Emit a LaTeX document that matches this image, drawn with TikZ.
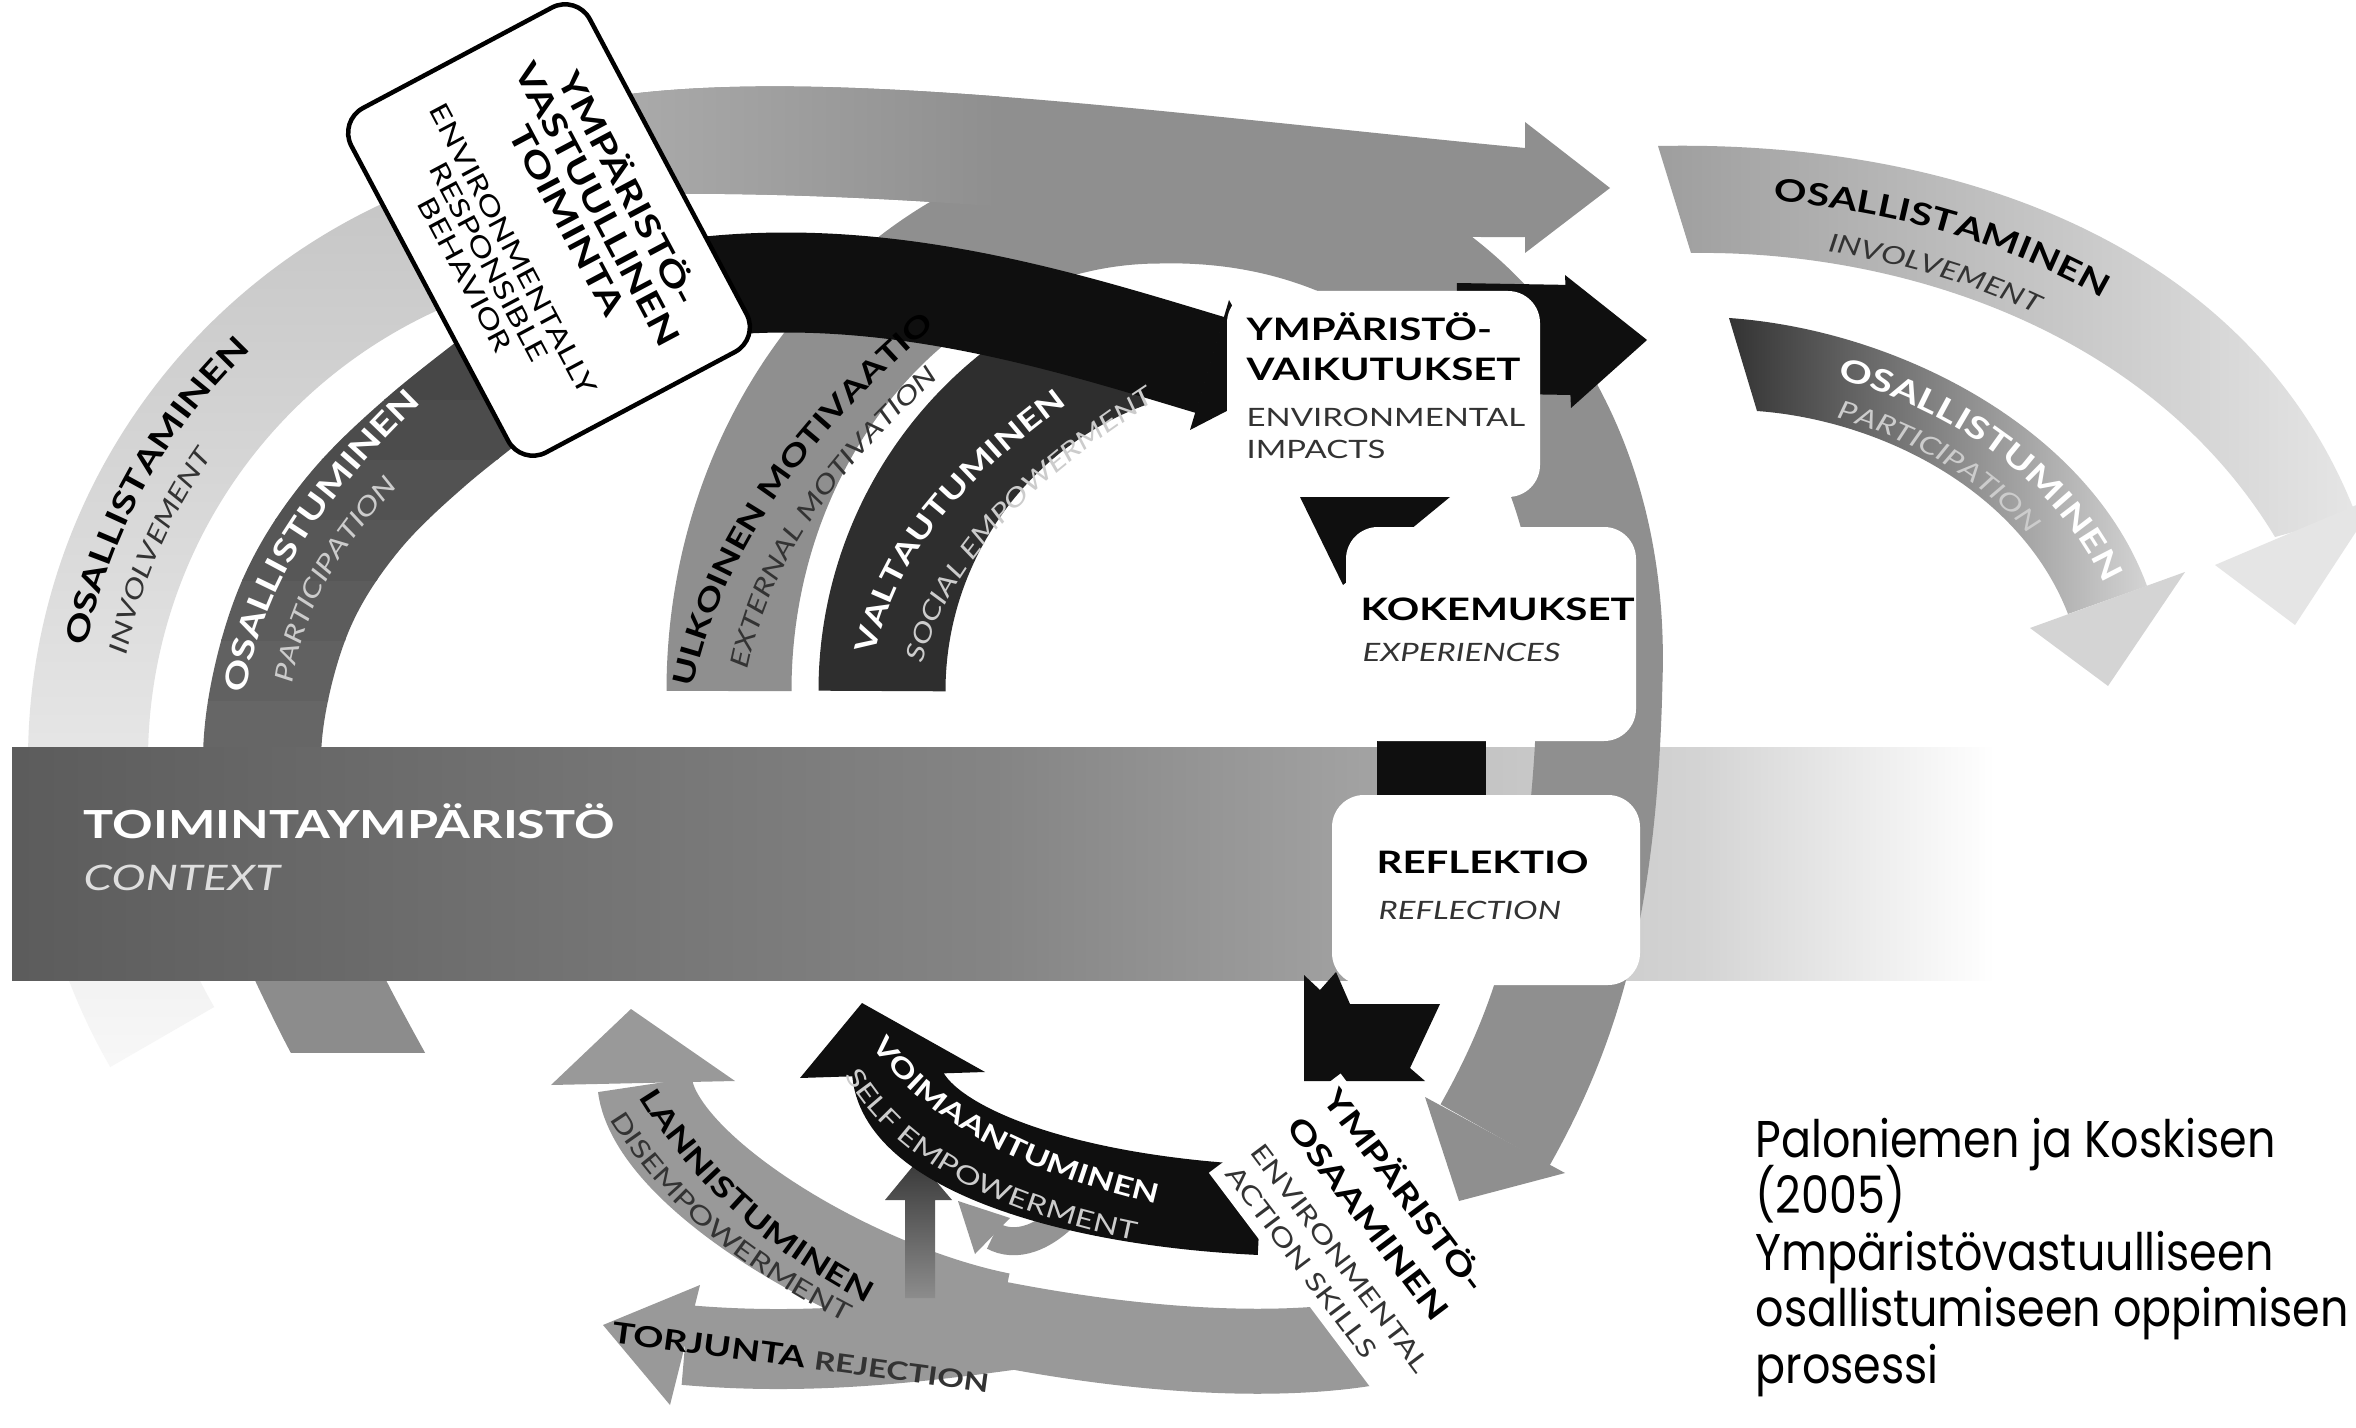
\documentclass[tikz,border=0pt]{standalone}
\usepackage{fontspec}
\setmainfont{Lato}
\newfontfamily\lblfont{Lato}[FakeStretch=1.3]
\newfontfamily\capfont{Poppins}[FakeStretch=0.86]
\usetikzlibrary{decorations.text,calc}
\newcommand\labB{\lblfont\bfseries\fontsize{8.8}{10.5}\selectfont}
\newcommand\labBs{\lblfont\bfseries\fontsize{8.2}{10}\selectfont}
\newcommand\labBt{\lblfont\bfseries\fontsize{7.6}{9}\selectfont}
\newcommand\labR{\lblfont\fontsize{7.2}{8.6}\selectfont}
\newcommand\labI{\lblfont\itshape\fontsize{7.2}{8.6}\selectfont}
\newcommand\labBB{\lblfont\bfseries\fontsize{9.3}{9.7}\selectfont}
\newcommand\labRR{\lblfont\fontsize{7.5}{7.7}\selectfont}
\definecolor{l1top}{gray}{0.77}
\definecolor{l1bot}{gray}{0.97}
\definecolor{tl}{gray}{0.68}
\definecolor{ucol}{gray}{0.56}
\definecolor{p1low}{gray}{0.55}
\definecolor{vcol}{gray}{0.18}
\definecolor{bcol}{gray}{0.06}
\definecolor{bar1}{gray}{0.36}
\definecolor{bar2}{gray}{0.52}
\definecolor{bar3}{gray}{0.64}
\definecolor{bar4}{gray}{0.74}
\definecolor{bar5}{gray}{0.83}
\definecolor{r1l}{gray}{0.62}
\definecolor{r1r}{gray}{0.9}
\definecolor{r2l}{gray}{0.2}
\definecolor{r2r}{gray}{0.83}
\definecolor{bot}{gray}{0.6}
\definecolor{sat}{gray}{0.22}
\definecolor{sab}{gray}{0.55}
\definecolor{scol}{gray}{0.58}
\definecolor{dgray}{gray}{0.2}
\definecolor{lgray}{gray}{0.8}
\definecolor{ctxc}{gray}{0.87}
\begin{document}
\begin{tikzpicture}[x=0.1mm, y=0.1mm,
  wbox/.style={fill=white, rounded corners=3.2mm, inner sep=0pt},
  tlab/.style={anchor=base west, inner sep=0pt},
  caplab/.style={anchor=base west, inner sep=0pt, font=\capfont\fontsize{14.7}{17}\selectfont},
]
\useasboundingbox (0,0) rectangle (2356,-1428);
\fill[white] (0,0) rectangle (2356,-1428);

% outer left arc (involvement)
\shade[top color=l1top, bottom color=l1bot] ($(642,-760)+(210:614)$) arc[start angle=210, end angle=103, radius=614] -- ($(642,-760)+(103:494)$) arc[start angle=103, end angle=210, radius=494] -- cycle;

% participation arc (left), darkening upwards
\foreach \i in {0,...,7} {
  \pgfmathsetmacro{\gv}{0.40-0.02*\i}
  \pgfmathsetmacro{\ylo}{-760+60*\i}
  \pgfmathsetmacro{\yhi}{\i==7 ? 0 : -760+60*(\i+1)+1}
  \definecolor{pc}{gray}{\gv}
  \begin{scope}
  \clip (0,\ylo) rectangle (1000,\yhi);
  \draw[pc, line width=11.8mm] plot[smooth, tension=0.6] coordinates {(395,-1120) (330,-1000) (282,-890) (263,-790) (268,-700) (298,-600) (352,-515) (428,-440) (530,-360)};
  \end{scope}
}
\begin{scope}
\clip (0,-975) rectangle (1000,-1052);
\draw[p1low, line width=11.8mm] plot[smooth, tension=0.6] coordinates {(395,-1120) (330,-1000) (282,-890) (263,-790) (268,-700) (298,-600) (352,-515) (428,-440) (530,-360)};
\end{scope}

% context bar
\shade[left color=bar1, right color=bar2] (12,-747) rectangle (1002,-980);
\shade[left color=bar2, right color=bar3] (1000,-747) rectangle (1380,-980);
\shade[left color=bar4, right color=bar5] (1378,-747) rectangle (1702,-980);
\shade[left color=bar5, right color=white] (1700,-747) rectangle (1995,-980);

% external motivation big loop
\draw[ucol, line width=12.5mm] (729,-691) arc[start angle=180, end angle=90, x radius=431, y radius=490] .. controls (1420,-195) and (1610,-390) .. (1600,-680) .. controls (1595,-900) and (1560,-1020) .. (1495,-1135);
\fill[ucol] (1425,-1097) -- (1565,-1173) -- (1459,-1201) -- cycle;

% top arrow (light near the box, same tone as the loop further right)
\begin{scope}
\clip (590,-100) .. controls (800,-62) and (1150,-112) .. (1525,-148) -- (1525,-237) .. controls (1250,-240) and (950,-185) .. (600,-195) -- cycle;
\fill[ucol] (580,0) rectangle (1530,-260);
\shade[left color=tl, right color=ucol] (580,0) rectangle (1000,-260);
\end{scope}
\fill[ucol] (1525,-122) -- (1610,-188) -- (1525,-253) -- cycle;

% social empowerment
\draw[vcol, line width=12.7mm] (882,-691) arc[start angle=180, end angle=110, radius=368];

% black arrow to impacts
\draw[bcol, line width=10mm] (650,-295) .. controls (860,-255) and (1060,-320) .. (1210,-365);
\fill[bcol] (1229,-300) -- (1277,-385) -- (1190,-430) -- cycle;
\draw[bcol, line width=11mm] (1456,-338) -- (1572,-340);
\fill[bcol] (1565,-275) -- (1647,-340) -- (1571,-408) -- cycle;
\fill[bcol] (1300,-497) -- (1450,-497) -- (1343,-585) -- cycle;
\node[wbox, minimum width=31.3mm, minimum height=20.6mm] (vaik) at (1383.5,-394) {};
\fill[bcol] (1377,-737) rectangle (1486,-800);
\node[wbox, minimum width=29mm, minimum height=21.4mm] (koke) at (1491,-634) {};
\fill[bcol] (1304,-975) -- (1320,-990) -- (1336,-972) -- (1350,-1004) -- (1440,-1004) -- (1410,-1068) -- (1425,-1081) -- (1304,-1081) -- cycle;
\node[wbox, minimum width=30.8mm, minimum height=19mm] (refl) at (1486,-890) {};

% right arcs
\shade[left color=r1l, right color=r1r] (1658,-146) .. controls (1950,-140) and (2250,-240) .. (2356,-515) -- (2275,-537) .. controls (2150,-330) and (1900,-250) .. (1691,-253) -- cycle;
\fill[r1r] (2215,-565) -- (2380,-495) -- (2295,-625) -- cycle;
\shade[left color=r2l, right color=r2r] (1729,-318) .. controls (1900,-330) and (2090,-430) .. (2147,-586) -- (2068,-614) .. controls (2020,-490) and (1880,-420) .. (1757,-411) -- cycle;
\fill[r2r] (2030,-628) -- (2185,-572) -- (2108,-686) -- cycle;

% bottom arrows
\draw[bot, line width=9.5mm] (1000,-1320) .. controls (850,-1290) and (655,-1170) .. (645,-1085);
\fill[bot] (551,-1085) -- (631,-1009) -- (735,-1081) -- cycle;
\draw[bot, line width=8mm] (1010,-1330) .. controls (900,-1345) and (800,-1355) .. (685,-1345);
\fill[bot] (700,-1285) -- (603,-1325) -- (670,-1405) -- cycle;
\draw[bot, line width=8.5mm] (1395,-1338) .. controls (1300,-1360) and (1150,-1355) .. (980,-1320);
\shade[top color=sat, bottom color=sab] (905,-1298) -- (905,-1200) -- (885,-1200) -- (918,-1160) -- (952,-1200) -- (935,-1200) -- (935,-1298) -- cycle;
\draw[scol, line width=2.8mm] (1075,-1205) .. controls (1045,-1240) and (1015,-1248) .. (993,-1236);
\fill[scol] (1010,-1218) -- (958,-1201) -- (975,-1254) -- cycle;
\draw[bcol, line width=9mm] (897,-1070) .. controls (900,-1140) and (1050,-1200) .. (1260,-1210);
\fill[bcol] (800,-1078) -- (862,-1003) -- (985,-1072) -- cycle;
\node[fill=white, rotate=-53, minimum width=29mm, minimum height=16.5mm, inner sep=0pt] (osbg) at (1362,-1239) {};

% behaviour box
\node[draw=black, line width=0.45mm, fill=white, rounded corners=2.8mm, minimum width=39mm, minimum height=27mm, rotate=-62, inner sep=0pt] (evb) at (549,-230) {};
\node[rotate=-62, align=center, inner sep=0pt, font=\labBB] (evb1) at (600,-203) {YMPÄRISTÖ-\\VASTUULLINEN\\TOIMINTA};
\node[rotate=-62, align=center, inner sep=0pt, font=\labRR] (evb2) at (489,-262) {ENVIRONMENTALLY\\RESPONSIBLE\\BEHAVIOR};

% texts
\node[tlab, text=white] (ctx1) at (83,-838) {\lblfont\bfseries\fontsize{11}{13}\selectfont TOIMINTAYMPÄRISTÖ};
\node[tlab, text=ctxc] (ctx2) at (83,-890) {\lblfont\itshape\fontsize{10}{12}\selectfont CONTEXT};
\node[tlab] (vk1) at (1246,-341) {\labB YMPÄRISTÖ-};
\node[tlab] (vk2) at (1246,-381) {\labB VAIKUTUKSET};
\node[tlab, text=dgray] (vk3) at (1246,-427) {\labR ENVIRONMENTAL};
\node[tlab, text=dgray] (vk4) at (1246,-459) {\labR IMPACTS};
\node[tlab] (ko1) at (1360,-620) {\labB KOKEMUKSET};
\node[tlab, text=dgray] (ko2) at (1362,-661) {\labI EXPERIENCES};
\node[tlab] (re1) at (1376,-873) {\labB REFLEKTIO};
\node[tlab, text=dgray] (re2) at (1378,-919) {\labI REFLECTION};
\node[rotate=-7.6, inner sep=0pt] (torj) at (801,-1357) {\labBs TORJUNTA \labR\color{dgray}REJECTION};
\node[tlab, rotate=-53] (os1) at (1321,-1099) {\labB YMPÄRISTÖ-};
\node[tlab, rotate=-53] (os2) at (1285,-1127) {\labB OSAAMINEN};
\node[tlab, rotate=-53, text=dgray] (os3) at (1249,-1152) {\labR ENVIRONMENTAL};
\node[tlab, rotate=-53, text=dgray] (os4) at (1224,-1174) {\labR ACTION SKILLS};

\path[decorate, decoration={text along path, text color=black, text={|\labB|OSALLISTAMINEN}}] ($(642,-760)+(168.5:567)$) arc[start angle=168.5, end angle=75, radius=567];
\path[decorate, decoration={text along path, text color=dgray, text={|\labI|INVOLVEMENT}}] ($(642,-760)+(168.5:526)$) arc[start angle=168.5, end angle=75, radius=526];
\path[decorate, decoration={text along path, text color=white, text={|\labB|OSALLISTUMINEN}}] (246,-694) .. controls (262,-580) and (330,-480) .. (480,-350);
\path[decorate, decoration={text along path, text color=lgray, text={|\labI|PARTICIPATION}}] (293,-684) .. controls (305,-590) and (360,-510) .. (490,-400);
\path[decorate, decoration={text along path, text color=black, text={|\labBs|ULKOINEN MOTIVAATIO}}] (693,-688) .. controls (720,-560) and (800,-430) .. (980,-290);
\path[decorate, decoration={text along path, text color=dgray, text={|\labI|EXTERNAL MOTIVATION}}] (748,-670) .. controls (770,-560) and (840,-450) .. (1010,-320);
\path[decorate, decoration={text along path, text color=white, text={|\labBs|VALTAUTUMINEN}}] (875,-655) .. controls (900,-540) and (980,-460) .. (1130,-360);
\path[decorate, decoration={text along path, text color=lgray, text={|\labI|SOCIAL EMPOWERMENT}}] (923,-664) .. controls (950,-560) and (1030,-480) .. (1180,-385);
\path[decorate, decoration={text along path, text color=black, text={|\labB|OSALLISTAMINEN}, text align={left indent=10mm}}] (1674,-198) .. controls (1926,-193) and (2201,-284) .. (2317,-526);
\path[decorate, decoration={text along path, text color=dgray, text={|\labI|INVOLVEMENT}, text align={left indent=14mm}}] (1688,-242) .. controls (1905,-239) and (2160,-321) .. (2283,-535);
\path[decorate, decoration={text along path, text color=white, text={|\labB|OSALLISTUMINEN}, text align={left indent=9.7mm}}] (1742,-362) .. controls (1891,-372) and (2057,-458) .. (2110,-599);
\path[decorate, decoration={text along path, text color=lgray, text={|\labI|PARTICIPATION}, text align={left indent=8.3mm}}] (1755,-404) .. controls (1882,-413) and (2026,-485) .. (2074,-612);
\path[decorate, decoration={text along path, text color=black, text={|\labBs|LANNISTUMINEN}}] (639,-1097) .. controls (690,-1180) and (760,-1250) .. (890,-1315);
\path[decorate, decoration={text along path, text color=dgray, text={|\labR|DISEMPOWERMENT}}] (610,-1119) .. controls (660,-1200) and (730,-1265) .. (860,-1330);
\path[decorate, decoration={text along path, text color=white, text={|\labBt|VOIMAANTUMINEN}}] (872,-1045) .. controls (925,-1125) and (1040,-1185) .. (1210,-1215);
\path[decorate, decoration={text along path, text color=lgray, text={|\labR|SELF EMPOWERMENT}}] (845,-1075) .. controls (890,-1155) and (990,-1215) .. (1160,-1245);

% caption
\node[caplab] (cap1) at (1755,-1157) {Paloniemen ja Koskisen};
\node[caplab] (cap2) at (1755,-1213) {(2005)};
\node[caplab] (cap3) at (1755,-1270) {Ympäristövastuulliseen};
\node[caplab] (cap4) at (1755,-1326) {osallistumiseen oppimisen};
\node[caplab] (cap5) at (1755,-1383) {prosessi};
\end{tikzpicture}
\end{document}
